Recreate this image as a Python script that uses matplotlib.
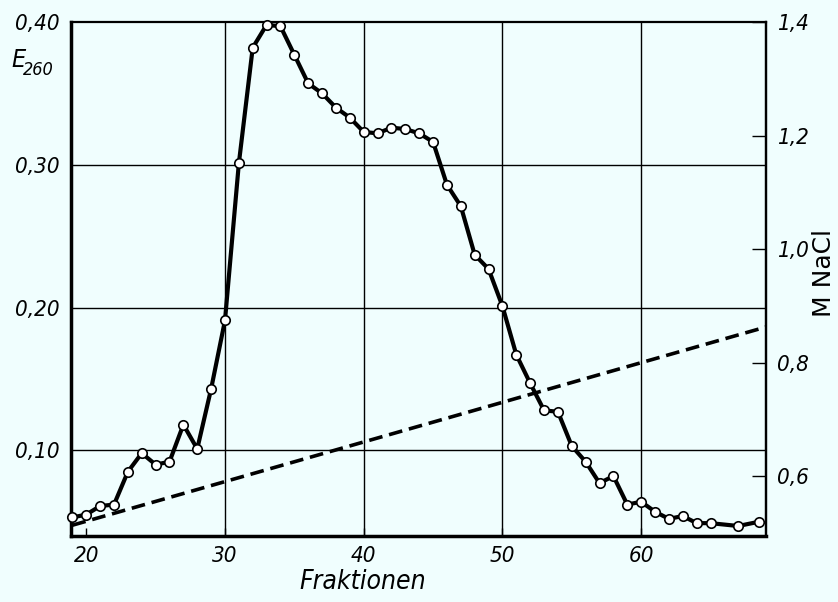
import matplotlib.pyplot as plt
import numpy as np

# E260 elution profile, fractions 19..68
fraktion = [19, 20, 21, 22, 23, 24, 25, 26, 27, 28, 29, 30, 31, 32, 33, 34, 35, 36, 37,
            38, 39, 40, 41, 42, 43, 44, 45, 46, 47, 48, 49, 50, 51, 52, 53, 54, 55, 56,
            57, 58, 59, 60, 61, 62, 63, 64, 65, 67, 68.5]
e260 = [0.053, 0.055, 0.061, 0.062, 0.085, 0.098, 0.090, 0.092, 0.118, 0.101, 0.143, 0.191,
        0.301, 0.382, 0.398, 0.397, 0.377, 0.357, 0.350, 0.340, 0.333, 0.323, 0.322, 0.326,
        0.325, 0.322, 0.316, 0.286, 0.271, 0.237, 0.227, 0.201, 0.167, 0.147, 0.128, 0.127,
        0.103, 0.092, 0.077, 0.082, 0.062, 0.064, 0.057, 0.052, 0.054, 0.049, 0.049, 0.047,
        0.050]

# NaCl gradient (right axis)
grad_x = [19, 69]
grad_nacl = [0.514, 0.863]

left_ticks = [0.10, 0.20, 0.30, 0.40]
left_labels = ['0,10', '0,20', '0,30', '0,40']
right_ticks = [0.6, 0.8, 1.0, 1.2, 1.4]
right_labels = ['0,6', '0,8', '1,0', '1,2', '1,4']
x_ticks = [20, 30, 40, 50, 60]

bg = '#f0fefe'
fnt = dict(family='DejaVu Sans', stretch='condensed', style='italic')

fig = plt.figure(figsize=(8.38, 6.02), dpi=100, facecolor=bg)
ax = fig.add_axes([71/838, 66/602, 695/838, 514/602])
ax.set_facecolor(bg)
ax.set_xlim(18.9, 69)
ax.set_ylim(0.04, 0.40)

for xv in [30, 40, 50, 60]:
    ax.axvline(xv, color='black', lw=1.0, zorder=1)
for yv in [0.10, 0.20, 0.30]:
    ax.axhline(yv, color='black', lw=1.0, zorder=1)

ax.plot(fraktion, e260, color='black', lw=3, marker='o', ms=6.8,
        mfc='white', mec='black', mew=1.2, zorder=4, clip_on=False)

ax.set_xticks(x_ticks)
ax.set_xticklabels([str(v) for v in x_ticks], fontsize=16, **fnt)
ax.set_yticks(left_ticks)
ax.set_yticklabels(left_labels, fontsize=16, **fnt)
ax.tick_params(axis='y', length=0, pad=8)
ax.tick_params(axis='x', direction='in', length=6, width=1, pad=7)
ax.set_xlabel('Fraktionen', fontsize=19, **fnt)
ax.xaxis.set_label_coords(0.42, -0.065)

for side in ['left', 'bottom']:
    ax.spines[side].set_linewidth(2.5)
for side in ['top', 'right']:
    ax.spines[side].set_linewidth(1.6)

ax2 = ax.twinx()
ax2.set_ylim(0.495, 1.4)
ax2.plot(grad_x, grad_nacl, color='black', lw=2.6, ls=(0, (3.8, 1.9)), zorder=3)
ax2.set_yticks(right_ticks)
ax2.set_yticklabels(right_labels, fontsize=16, **fnt)
ax2.tick_params(axis='y', direction='in', length=10, width=1, pad=8)
ax2.spines['right'].set_linewidth(1.6)
for side in ['left', 'bottom', 'top']:
    ax2.spines[side].set_visible(False)
ax2.set_ylabel('M NaCl', family='DejaVu Sans', fontsize=18, rotation=90)
ax2.yaxis.set_label_coords(1.066, 0.512)

# E260 label under the top tick
fig.text(11/838, 1 - 67/602, 'E', fontsize=18, ha='left', va='baseline', **fnt)
fig.text(23/838, 1 - 75/602, '260', fontsize=13, ha='left', va='baseline', **fnt)

fig.savefig('out.png', dpi=100, facecolor=bg)
